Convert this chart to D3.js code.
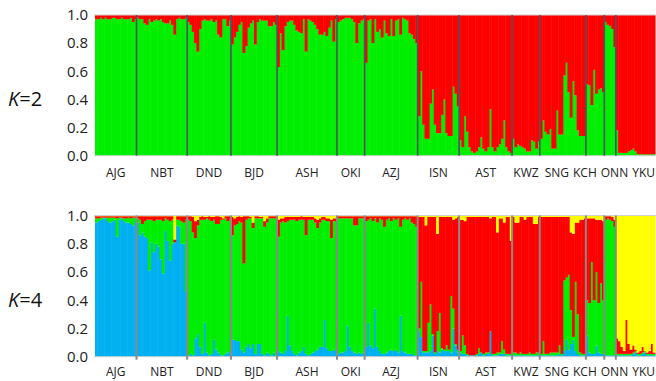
<!DOCTYPE html>
<html><head><meta charset="utf-8">
<script src="https://cdn.jsdelivr.net/npm/d3@7"></script>
<style>
html,body{margin:0;padding:0;background:#fff;}
svg{display:block;font-family:"Open Sans","Noto Sans",sans-serif;}
</style></head>
<body><svg id="chart" width="656" height="381"></svg>
<script>
// ---------------- DATA ----------------
const populations = ["AJG","NBT","DND","BJD","ASH","OKI","AZJ","ISN","AST","KWZ","SNG","KCH","ONN","YKU"];
const popSizes    = [18,22,19,20,26,12,23,18,23,12,20,8,5,17];
const yTicks = [0,0.2,0.4,0.6,0.8,1.0];
const panelK = ["2","4"];

// K=2 : proportion of the green cluster (rest is red)
const k2Green = [
 0.97,0.97,0.98,0.97,0.98,0.97,0.97,0.98,0.98,0.97,0.97,0.98,0.97,0.97,0.97,0.98,0.95,0.97,
 0.98,0.97,0.97,0.94,0.93,0.97,0.95,0.96,0.97,0.96,0.97,0.95,0.94,0.94,0.96,0.93,0.86,0.97,0.98,0.97,0.97,0.98,
 0.95,0.93,0.88,0.80,0.74,0.90,0.96,0.97,0.96,0.96,0.97,0.95,0.96,0.86,0.84,0.97,0.97,0.92,0.96,
 0.79,0.84,0.88,0.93,0.95,0.73,0.78,0.91,0.94,0.96,0.79,0.95,0.97,0.96,0.96,0.96,0.92,0.92,0.95,0.93,
 0.63,0.87,0.75,0.92,0.95,0.96,0.96,0.93,0.89,0.88,0.87,0.97,0.74,0.97,0.96,0.95,0.93,0.90,0.86,0.86,0.88,0.85,0.91,0.96,0.81,0.97,
 0.95,0.96,0.97,0.98,0.98,0.98,0.97,0.95,0.80,0.94,0.96,0.97,
 0.66,0.96,0.97,0.80,0.97,0.88,0.90,0.84,0.96,0.87,0.85,0.97,0.85,0.96,0.97,0.86,0.98,0.97,0.96,0.87,0.86,0.83,0.80,
 0.28,0.60,0.22,0.12,0.12,0.37,0.47,0.22,0.16,0.16,0.29,0.40,0.16,0.14,0.14,0.49,0.44,0.35,
 0.11,0.06,0.28,0.17,0.06,0.03,0.02,0.03,0.06,0.13,0.05,0.03,0.06,0.33,0.06,0.03,0.06,0.08,0.12,0.25,0.06,0.03,0.02,
 0.12,0.06,0.08,0.07,0.06,0.05,0.03,0.03,0.11,0.10,0.05,0.10,
 0.12,0.25,0.17,0.15,0.19,0.05,0.05,0.32,0.15,0.15,0.57,0.66,0.45,0.27,0.53,0.43,0.18,0.14,0.14,0.14,
 0.51,0.50,0.36,0.61,0.44,0.47,0.48,0.45,
 0.95,0.93,0.92,0.90,0.77,
 0.18,0.02,0.02,0.02,0.02,0.03,0.04,0.05,0.03,0.01,0.01,0.01,0.01,0.01,0.01,0.01,0.01
];

// K=4 : blue, green, yellow proportions (red is the remainder of each row)
const k4Blue = [
 0.95,0.96,0.97,0.98,0.98,0.96,0.95,0.96,0.97,0.85,0.97,0.98,0.96,0.95,0.95,0.94,0.93,0.96,
 0.95,0.86,0.88,0.85,0.84,0.61,0.81,0.74,0.80,0.78,0.69,0.59,0.89,0.82,0.68,0.80,0.81,0.93,0.92,0.80,0.80,0.46,
 0.01,0.02,0.01,0.13,0.16,0.07,0.02,0.24,0.03,0.01,0.02,0.12,0.05,0.03,0.01,0.01,0.02,0.03,0.04,
 0.12,0.12,0.11,0.11,0.05,0.03,0.07,0.09,0.06,0.09,0.02,0.09,0.09,0.02,0.01,0.03,0.02,0.01,0.03,0.01,
 0.04,0.03,0.02,0.04,0.29,0.08,0.04,0.02,0.01,0.03,0.04,0.07,0.02,0.01,0.02,0.03,0.04,0.05,0.07,0.07,0.26,0.06,0.04,0.04,0.05,0.04,
 0.02,0.03,0.03,0.04,0.22,0.07,0.04,0.03,0.02,0.03,0.02,0.03,
 0.07,0.24,0.08,0.06,0.34,0.07,0.04,0.02,0.02,0.03,0.04,0.05,0.04,0.05,0.03,0.29,0.04,0.03,0.02,0.02,0.02,0.01,0.01,
 0.18,0.14,0.03,0.03,0.03,0.04,0.15,0.02,0.04,0.03,0.05,0.04,0.04,0.04,0.03,0.20,0.08,0.03,
 0.03,0.02,0.02,0.01,0.01,0.01,0.01,0.01,0.02,0.03,0.01,0.02,0.02,0.18,0.01,0.01,0.01,0.02,0.02,0.02,0.01,0.01,0.01,
 0.01,0.01,0.01,0.01,0.01,0.01,0.01,0.01,0.01,0.01,0.01,0.01,
 0.01,0.01,0.01,0.01,0.01,0.01,0.01,0.01,0.02,0.01,0.04,0.12,0.05,0.09,0.12,0.04,0.02,0.01,0.01,0.01,
 0.15,0.03,0.02,0.02,0.08,0.03,0.02,0.02,
 0.01,0.01,0.01,0.01,0.01,
 0.01,0.01,0.01,0.01,0.01,0.01,0.01,0.02,0.03,0.01,0.01,0.02,0.03,0.01,0.01,0.01,0.01
];
const k4Green = [
 0.03,0.02,0.015,0.005,0.005,0.025,0.035,0.025,0.015,0.13,0.015,0.005,0.02,0.03,0.035,0.04,0.055,0.025,
 0.03,0.11,0.06,0.11,0.13,0.36,0.16,0.22,0.17,0.19,0.28,0.37,0.09,0.15,0.28,0.17,0.00,0.04,0.05,0.16,0.15,0.51,
 0.96,0.94,0.87,0.71,0.77,0.90,0.95,0.73,0.95,0.96,0.94,0.85,0.89,0.91,0.96,0.96,0.96,0.93,0.93,
 0.74,0.81,0.83,0.85,0.90,0.63,0.90,0.89,0.92,0.82,0.96,0.89,0.89,0.96,0.91,0.92,0.96,0.97,0.95,0.97,
 0.81,0.92,0.94,0.91,0.67,0.89,0.93,0.95,0.95,0.94,0.93,0.90,0.84,0.96,0.95,0.94,0.91,0.86,0.88,0.90,0.71,0.90,0.92,0.80,0.91,0.92,
 0.96,0.95,0.95,0.94,0.76,0.91,0.94,0.90,0.91,0.95,0.96,0.95,
 0.89,0.73,0.90,0.90,0.64,0.88,0.94,0.95,0.90,0.94,0.94,0.91,0.94,0.92,0.95,0.63,0.93,0.95,0.95,0.96,0.93,0.93,0.91,
 0.02,0.39,0.01,0.01,0.21,0.33,0.01,0.01,0.14,0.28,0.01,0.01,0.04,0.01,0.40,0.14,0.01,0.02,
 0.01,0.13,0.06,0.01,0.00,0.00,0.00,0.01,0.04,0.00,0.01,0.01,0.01,0.00,0.01,0.01,0.02,0.01,0.09,0.03,0.01,0.01,0.01,
 0.02,0.02,0.01,0.02,0.01,0.01,0.01,0.02,0.01,0.01,0.02,0.02,
 0.01,0.10,0.01,0.01,0.02,0.02,0.02,0.02,0.06,0.01,0.50,0.44,0.53,0.24,0.02,0.49,0.28,0.02,0.01,0.01,
 0.25,0.35,0.65,0.38,0.52,0.35,0.50,0.38,
 0.96,0.97,0.96,0.95,0.91,
 0.01,0.01,0.01,0.01,0.01,0.01,0.01,0.01,0.01,0.01,0.01,0.01,0.01,0.01,0.01,0.01,0.01
];
const k4Yellow = [
 0.005,0.005,0.005,0.005,0.005,0.005,0.005,0.005,0.005,0.005,0.005,0.005,0.005,0.005,0.005,0.005,0.005,0.005,
 0.005,0.005,0.005,0.005,0.005,0.005,0.005,0.005,0.005,0.005,0.005,0.005,0.005,0.005,0.005,0.005,0.17,0.005,0.005,0.005,0.005,0.005,
 0.005,0.005,0.01,0.04,0.03,0.01,0.005,0.01,0.01,0.005,0.01,0.01,0.005,0.005,0.01,0.02,0.005,0.005,0.005,
 0.01,0.02,0.01,0.005,0.01,0.005,0.005,0.005,0.01,0.05,0.005,0.005,0.01,0.01,0.04,0.02,0.005,0.005,0.005,0.005,
 0.03,0.02,0.02,0.01,0.01,0.01,0.01,0.01,0.01,0.01,0.005,0.01,0.01,0.01,0.01,0.01,0.02,0.03,0.02,0.01,0.01,0.02,0.02,0.03,0.02,0.02,
 0.005,0.005,0.005,0.005,0.005,0.005,0.005,0.005,0.005,0.005,0.005,0.005,
 0.005,0.005,0.005,0.005,0.005,0.005,0.005,0.005,0.005,0.005,0.005,0.005,0.005,0.005,0.005,0.005,0.005,0.005,0.005,0.005,0.005,0.005,0.005,
 0.01,0.01,0.01,0.07,0.01,0.01,0.01,0.01,0.13,0.01,0.01,0.01,0.01,0.01,0.01,0.03,0.02,0.01,
 0.03,0.03,0.04,0.01,0.01,0.01,0.01,0.01,0.01,0.01,0.01,0.01,0.01,0.02,0.01,0.01,0.12,0.02,0.02,0.05,0.01,0.01,0.18,
 0.01,0.05,0.05,0.01,0.01,0.03,0.01,0.01,0.01,0.06,0.06,0.01,
 0.01,0.01,0.01,0.01,0.01,0.01,0.01,0.01,0.01,0.01,0.01,0.01,0.01,0.12,0.13,0.05,0.05,0.03,0.03,0.02,
 0.02,0.02,0.02,0.02,0.03,0.03,0.03,0.04,
 0.005,0.005,0.005,0.01,0.03,
 0.87,0.89,0.93,0.96,0.74,0.91,0.95,0.92,0.95,0.97,0.96,0.93,0.96,0.97,0.96,0.91,0.97
];

// ---------------- LAYOUT / STYLE ----------------
const COL = {green:"#00ee00", red:"#ff0000", blue:"#00b0f0", yellow:"#ffff00"};
const plotLeft = 95, plotRight = 655;
const panels = [
  {top:15, bottom:155.7, labelY:173, divColor:"#4a5563", divW:1.6, divExt:0},
  {top:215.5, bottom:356.7, labelY:372, divColor:"#8a8a8a", divW:2, divExt:3}
];
const labelGap = 4;

const N = k2Green.length;
const svg = d3.select("#chart");
const x = d3.scaleBand().domain(d3.range(N)).range([plotLeft, plotRight]).padding(0);
const bw = x.bandwidth();

// population start indices
const starts = [];
popSizes.reduce((acc, n) => { starts.push(acc); return acc + n; }, 0);

// stacked tables
const rowsK2 = k2Green.map((g, i) => ({i, green:g, red:Math.max(0, 1 - g)}));
const rowsK4 = k4Blue.map((b, i) => {
  const g = k4Green[i], yv = k4Yellow[i];
  return {i, blue:b, green:g, red:Math.max(0, 1 - b - g - yv), yellow:yv};
});
const stacks = [
  d3.stack().keys(["green","red"])(rowsK2),
  d3.stack().keys(["blue","green","red","yellow"])(rowsK4)
];

panels.forEach((p, pi) => {
  const y = d3.scaleLinear().domain([0, 1]).range([p.bottom, p.top]);
  const g = svg.append("g");

  // stacked bars
  g.selectAll("g.layer").data(stacks[pi]).join("g")
    .attr("fill", d => COL[d.key])
    .selectAll("rect").data(d => d).join("rect")
      .attr("x", d => x(d.data.i))
      .attr("width", bw + 0.5)
      .attr("y", d => y(Math.min(1, d[1])))
      .attr("height", d => Math.max(0, y(d[0]) - y(Math.min(1, d[1]))));

  // light frame lines at 1.0 and 0.0
  [1, 0].forEach(v => {
    g.append("line").attr("x1", plotLeft - 1).attr("x2", plotRight + 1)
      .attr("y1", y(v)).attr("y2", y(v))
      .attr("stroke", "#cfcfcf").attr("stroke-width", 1);
  });

  // population dividers
  starts.slice(1).forEach(s => {
    const xx = x(s);
    g.append("line").attr("x1", xx).attr("x2", xx)
      .attr("y1", y(1)).attr("y2", y(0) + p.divExt)
      .attr("stroke", p.divColor).attr("stroke-width", p.divW);
  });

  // y axis
  const ax = g.append("g").attr("transform", `translate(${plotLeft - 5},0)`)
    .call(d3.axisLeft(y).tickValues(yTicks).tickFormat(d3.format(".1f")).tickSize(0).tickPadding(2));
  ax.select(".domain").remove();
  ax.selectAll("text").attr("font-size", 15).attr("fill", "#222")
    .attr("font-family", "'Open Sans','Noto Sans',sans-serif");

  // K label
  const kt = g.append("text").attr("x", 8).attr("y", y(0.4)).attr("dy", "0.35em")
    .attr("font-size", 20).attr("fill", "#111");
  kt.append("tspan").attr("font-style", "italic").text("K");
  kt.append("tspan").text("=" + panelK[pi]);

  // population labels: centred under segments, overlaps relaxed
  const lbl = g.selectAll("text.pop").data(populations).join("text")
    .attr("class", "pop").attr("text-anchor", "middle")
    .attr("font-size", 12).attr("fill", "#222")
    .attr("y", p.labelY).attr("dy", "0.35em")
    .text(d => d);
  const items = populations.map((name, k) => ({
    cx: x(starts[k]) + popSizes[k] * bw / 2,
    w: lbl.nodes()[k].getComputedTextLength()
  }));
  for (let it = 0; it < 300; it++) {
    for (let k = 0; k < items.length - 1; k++) {
      const a = items[k], b = items[k + 1];
      const need = (a.w + b.w) / 2 + labelGap;
      const d = b.cx - a.cx;
      if (d < need) { const s = (need - d) / 2; a.cx -= s; b.cx += s; }
    }
    const last = items[items.length - 1];
    if (last.cx + last.w / 2 > plotRight) last.cx = plotRight - last.w / 2;
  }
  lbl.attr("x", (d, k) => items[k].cx);
});
</script>
</body></html>
